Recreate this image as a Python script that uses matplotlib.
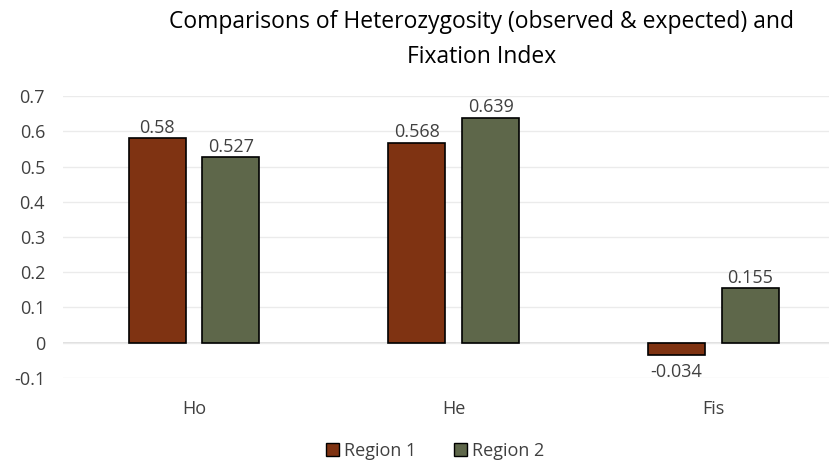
import numpy as np
import matplotlib.pyplot as plt
from matplotlib.patches import Patch

categories = ['Ho', 'He', 'Fis']
region1 = [0.58, 0.568, -0.034]
region2 = [0.527, 0.639, 0.155]
labels1 = ['0.58', '0.568', '-0.034']
labels2 = ['0.527', '0.639', '0.155']
series_names = ['Region 1', 'Region 2']

c1 = '#7F3312'
c2 = '#5E674A'

plt.rcParams['font.family'] = ['Open Sans', 'DejaVu Sans']

fig = plt.figure(figsize=(8.31, 4.62), dpi=100)
ax = fig.add_axes([0.076, 0.182, 0.922, 0.61])

x = np.arange(len(categories))
w = 0.219
off = 0.142
b1 = ax.bar(x - off, region1, w, color=c1, edgecolor='black', linewidth=1.2, zorder=3)
b2 = ax.bar(x + off, region2, w, color=c2, edgecolor='black', linewidth=1.2, zorder=3)

for bars, vals, labs in [(b1, region1, labels1), (b2, region2, labels2)]:
    for b, v, t in zip(bars, vals, labs):
        if v >= 0:
            ax.annotate(t, (b.get_x() + b.get_width() / 2, v), xytext=(0, 1),
                        textcoords='offset points', ha='center', va='bottom',
                        fontsize=13, color='#404040')
        else:
            ax.annotate(t, (b.get_x() + b.get_width() / 2, v), xytext=(0, -6),
                        textcoords='offset points', ha='center', va='top',
                        fontsize=13, color='#404040')

ax.set_xlim(-0.504, 2.446)
ax.set_ylim(-0.1, 0.7)
ax.set_yticks(np.arange(-0.1, 0.71, 0.1))
ax.set_yticklabels(['-0.1', '0', '0.1', '0.2', '0.3', '0.4', '0.5', '0.6', '0.7'])
ax.set_xticks(x)
ax.set_xticklabels(categories)
ax.tick_params(length=0, labelsize=13, labelcolor='#404040')
ax.tick_params(axis='x', pad=16)
ax.tick_params(axis='y', pad=13)
ax.grid(axis='y', color='#EBEBEB', linewidth=1, zorder=0)
ax.axhline(0, color='#D9D9D9', linewidth=1.2, zorder=1)
for s in ax.spines.values():
    s.set_visible(False)

fig.text(0.579, 0.952, 'Comparisons of Heterozygosity (observed & expected) and',
         ha='center', va='center', fontsize=16.5, color='black')
fig.text(0.579, 0.876, 'Fixation Index', ha='center', va='center', fontsize=16.5, color='black')

handles = [Patch(facecolor=c1, edgecolor='black'), Patch(facecolor=c2, edgecolor='black')]
fig.legend(handles, series_names, loc='center', bbox_to_anchor=(0.524, 0.024), ncol=2,
           frameon=False, fontsize=13, handlelength=0.7, handleheight=0.7,
           handletextpad=0.3, columnspacing=2.1, labelcolor='#404040')

fig.savefig('out.png', dpi=100)
